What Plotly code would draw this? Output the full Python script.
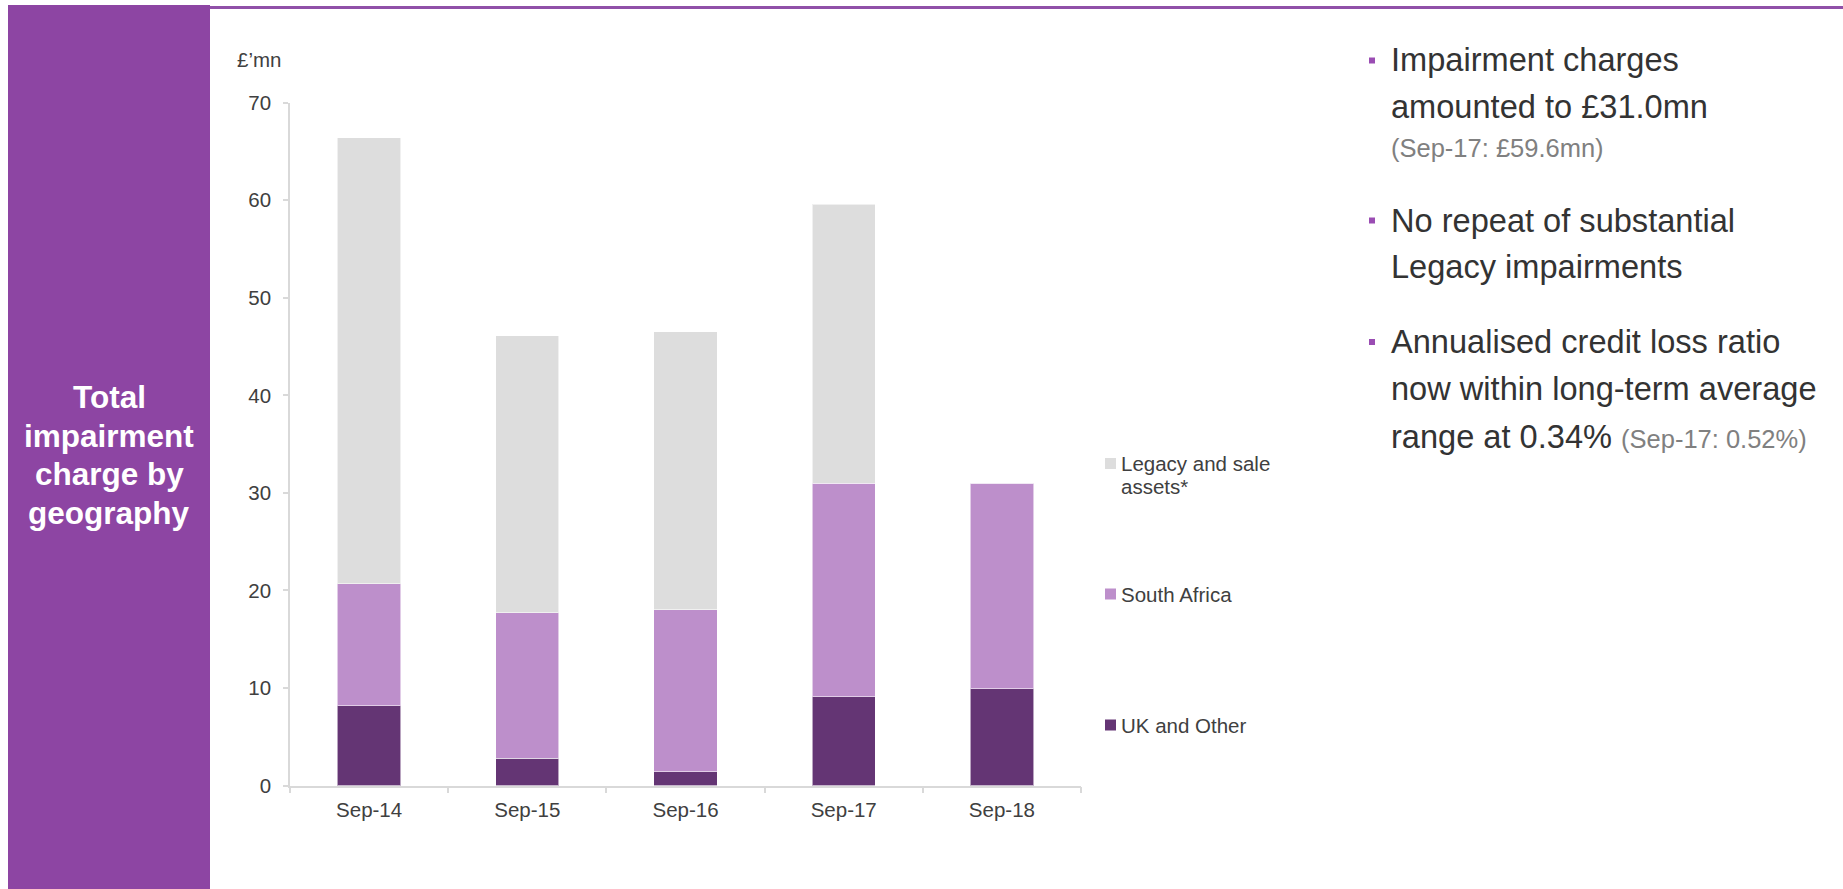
import plotly.graph_objects as go

W, H = 1843, 889

categories = ["Sep-14", "Sep-15", "Sep-16", "Sep-17", "Sep-18"]
uk_other = [8.2, 2.8, 1.4, 9.1, 9.9]
south_africa = [12.5, 14.9, 16.6, 21.9, 21.1]
legacy = [45.7, 28.4, 28.5, 28.6, 0.0]
series_names = ["UK and Other", "South Africa", "Legacy and sale<br>assets*"]
y_ticks = [0, 10, 20, 30, 40, 50, 60, 70]

C_UK = "#643574"
C_SA = "#BD8FCB"
C_LEG = "#DDDDDD"
PURPLE = "#8D45A3"
TXT = "#404040"
GRAY = "#808080"
FONT = "Liberation Sans, Arial, sans-serif"


def fx(p):
    return p / W


def fy(p):
    return 1 - p / H


def gray(t):
    return "<span style='font-size:25.5px;color:" + GRAY + "'>" + t + "</span>"


fig = go.Figure()
for name, vals, col in [(series_names[0], uk_other, C_UK),
                        (series_names[1], south_africa, C_SA),
                        (series_names[2], legacy, C_LEG)]:
    fig.add_trace(go.Bar(
        x=categories, y=vals, name=name,
        marker=dict(color=col, line=dict(color="rgba(255,255,255,0.55)", width=1)),
        showlegend=False, hoverinfo="x+y+name",
    ))

shapes = []
annotations = []

# left purple panel
shapes.append(dict(type="rect", xref="paper", yref="paper",
                   x0=fx(8), x1=fx(210), y0=fy(900), y1=fy(5),
                   fillcolor=PURPLE, line=dict(width=0), layer="below"))
# top purple rule
shapes.append(dict(type="line", xref="paper", yref="paper",
                   x0=fx(210), x1=1.0, y0=fy(7.5), y1=fy(7.5),
                   line=dict(color="#9050A8", width=3)))

for yc, ln in zip([397, 435.5, 474, 512.5], ["Total", "impairment", "charge by", "geography"]):
    annotations.append(dict(
        xref="paper", yref="paper", x=fx(109), y=fy(yc),
        xanchor="center", yanchor="middle", showarrow=False, align="center",
        text="<b>" + ln + "</b>",
        font=dict(family=FONT, size=31.5, color="white"),
    ))

# unit label
annotations.append(dict(
    xref="paper", yref="paper", x=fx(235), y=fy(60),
    xanchor="left", yanchor="middle", showarrow=False,
    text="£’mn", font=dict(family=FONT, size=20.5, color=TXT),
))

# legend (manual)
leg_items = [
    (C_LEG, 463.5, ["Legacy and sale", "assets*"]),
    (C_SA, 594, ["South Africa"]),
    (C_UK, 725, ["UK and Other"]),
]
for col, yc, lines in leg_items:
    shapes.append(dict(type="rect", xref="paper", yref="paper",
                       x0=fx(1105), x1=fx(1116), y0=fy(yc + 5.5), y1=fy(yc - 5.5),
                       fillcolor=col, line=dict(width=0)))
    for i, ln in enumerate(lines):
        annotations.append(dict(
            xref="paper", yref="paper", x=fx(1119), y=fy(yc + 23 * i),
            xanchor="left", yanchor="middle", showarrow=False,
            text=ln, font=dict(family=FONT, size=20.5, color=TXT),
        ))

# right-hand bullet text
bullet_lines = [
    (60, "Impairment charges", True),
    (106.5, "amounted to £31.0mn", False),
    (148, gray("(Sep-17: £59.6mn)"), False),
    (220, "No repeat of substantial", True),
    (266.5, "Legacy impairments", False),
    (341.5, "Annualised credit loss ratio", True),
    (388, "now within long-term average", False),
    (436.5, "range at 0.34% " + gray("(Sep-17: 0.52%)"), False),
]
for yc, t, bullet in bullet_lines:
    annotations.append(dict(
        xref="paper", yref="paper", x=fx(1389), y=fy(yc),
        xanchor="left", yanchor="middle", showarrow=False,
        text=t, font=dict(family=FONT, size=32.6, color="#333333"),
    ))
    if bullet:
        shapes.append(dict(type="rect", xref="paper", yref="paper",
                           x0=fx(1369), x1=fx(1375), y0=fy(yc + 3.5), y1=fy(yc - 2.5),
                           fillcolor="#9A4DB3", line=dict(width=0)))

fig.update_layout(
    width=W, height=H,
    margin=dict(l=0, r=0, t=0, b=0, autoexpand=False),
    paper_bgcolor="white", plot_bgcolor="white",
    barmode="stack", bargap=0.6,
    showlegend=False,
    font=dict(family=FONT, size=20.5, color=TXT),
    shapes=shapes, annotations=annotations,
    xaxis=dict(
        domain=[fx(290), fx(1081)], automargin=False,
        showgrid=False, zeroline=False,
        showline=True, linecolor="#D9D9D9", linewidth=1.5,
        ticks="outside", ticklen=6, tickcolor="#D9D9D9", tickwidth=1.5,
        tickson="boundaries",
        tickfont=dict(family=FONT, size=20.5, color=TXT),
        ticklabelstandoff=5,
    ),
    yaxis=dict(
        domain=[fy(785.5), fy(102.7)], automargin=False,
        range=[0, 70], tickvals=y_ticks,
        showgrid=False, zeroline=False,
        showline=True, linecolor="#D9D9D9", linewidth=1.5,
        ticks="outside", ticklen=5, tickcolor="#D9D9D9", tickwidth=1.5,
        tickfont=dict(family=FONT, size=20.5, color=TXT),
        ticklabelstandoff=8,
    ),
)

fig.write_html("out.html", config={"displayModeBar": False},
               post_script="document.body.style.margin='0';document.body.style.overflow='hidden';")
